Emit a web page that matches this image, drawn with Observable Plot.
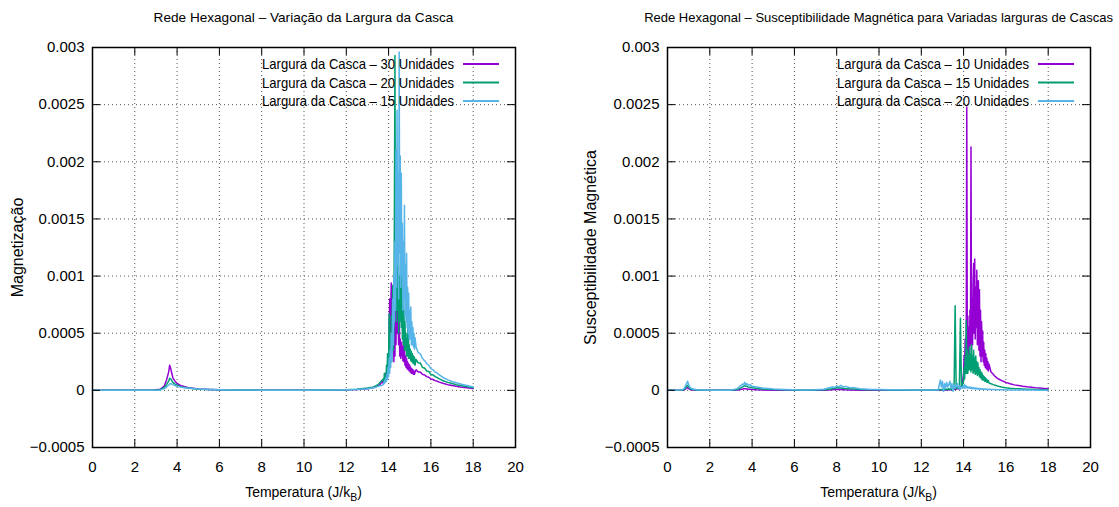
<!DOCTYPE html>
<html>
<head>
<meta charset="utf-8">
<script src="https://cdn.jsdelivr.net/npm/d3@7"></script>
<script src="https://cdn.jsdelivr.net/npm/@observablehq/plot@0.6"></script>
<style>
  body { margin: 0; background: #fff; color: #000;
         font-family: "Liberation Sans", Arial, sans-serif; }
  #wrap { display: flex; width: 1119px; height: 507px; overflow: hidden; }
  .panel { position: relative; }
  .title, .xlabel { display: flex; justify-content: center; white-space: nowrap; font-size: 14px; }
  .title { height: 34px; line-height: 36px; }
  .xlabel { height: 30px; line-height: 30px; }
  .xlabel sub { font-size: 10.5px; line-height: 0; vertical-align: -4px; }
</style>
</head>
<body>
<div id="wrap"></div>
<script>
// ---------- texts ----------
const leftTitle = "Rede Hexagonal – Variação da Largura da Casca";
const rightTitle = "Rede Hexagonal – Susceptibilidade Magnética para Variadas larguras de Cascas";
const leftYLabel = "Magnetização";
const rightYLabel = "Susceptibilidade Magnética";
const xLabelMain = "Temperatura (J/k";
const xLabelSub = "B";
const leftNames = ["Largura da Casca – 30 Unidades", "Largura da Casca – 20 Unidades", "Largura da Casca – 15 Unidades"];
const rightNames = ["Largura da Casca – 10 Unidades", "Largura da Casca – 15 Unidades", "Largura da Casca – 20 Unidades"];
const colors = ["#9400d3", "#009e73", "#56b4e9"];

// ---------- ticks ----------
const xTicks = [0, 2, 4, 6, 8, 10, 12, 14, 16, 18, 20];
const yTicks = [-0.0005, 0, 0.0005, 0.001, 0.0015, 0.002, 0.0025, 0.003];

// values below are in units of 1e-4
const UNIT = 1e-4;

// ---------- left panel ----------
const leftT = [
  0, 1, 2, 2.8, 3.2, 3.4, 3.5, 3.6, 3.65, 3.7, 3.75, 3.8, 3.9, 4.0, 4.2, 4.5, 5, 5.5, 6, 7, 8, 9, 10, 11, 12, 12.5, 13, 13.3, 13.5, 13.6, 13.7,
  13.75, 13.775, 13.8, 13.825, 13.85, 13.875, 13.9, 13.925, 13.95, 13.975,
  14, 14.025, 14.05, 14.075, 14.1, 14.125, 14.15, 14.175, 14.2, 14.225,
  14.25, 14.275, 14.3, 14.325, 14.35, 14.375, 14.4, 14.425, 14.45, 14.475,
  14.5, 14.525, 14.55, 14.575, 14.6, 14.625, 14.65, 14.675, 14.7, 14.725,
  14.75, 14.775, 14.8, 14.825, 14.85, 14.875, 14.9, 14.925, 14.95, 14.975,
  15, 15.025, 15.05, 15.075, 15.1, 15.125, 15.15, 15.175, 15.2, 15.225,
  15.25,
  15.3, 15.4, 15.5, 15.6, 15.7, 15.8, 15.9, 16, 16.1, 16.2, 16.3, 16.4, 16.6, 16.8, 17, 17.2, 17.4, 17.6, 17.8, 18
];
const left30 = [
  0, 0, 0, 0.02, 0.1, 0.4, 0.9, 1.6, 2.2, 1.9, 1.5, 1.1, 0.8, 0.6, 0.4, 0.25, 0.12, 0.08, 0.05, 0.03, 0.02, 0.02, 0.02, 0.03, 0.05, 0.08, 0.15, 0.25, 0.4, 0.5, 0.8,
  0.6, 1.0, 0.7, 1.2, 0.9, 1.5, 1.1, 2.0, 1.4, 2.6,
  1.8, 4.5, 8.0, 3.0, 6.5, 9.4, 4.0, 7.5, 3.5, 6.0,
  2.5, 5.5, 3.0, 9.0, 4.0, 12.0, 5.0, 18.5, 6.0, 4.0,
  8.0, 3.0, 4.5, 2.8, 4.2, 3.0, 3.8, 2.6, 4.4, 2.5,
  3.5, 2.2, 3.0, 2.0, 2.8, 1.9, 2.5, 1.8, 2.3, 1.7,
  2.2, 1.6, 2.0, 1.5, 1.9, 1.5, 1.8, 1.4, 1.7, 1.4,
  1.6,
  1.8, 1.6, 1.6, 1.4, 1.35, 1.2, 1.15, 1.0, 0.95, 0.85, 0.8, 0.72, 0.6, 0.5, 0.43, 0.36, 0.3, 0.25, 0.2, 0.16
];
const left20 = [
  0, 0, 0, 0.02, 0.06, 0.25, 0.5, 0.8, 1.05, 1.0, 0.85, 0.7, 0.55, 0.45, 0.3, 0.2, 0.1, 0.07, 0.05, 0.03, 0.02, 0.02, 0.02, 0.03, 0.06, 0.1, 0.2, 0.3, 0.5, 0.7, 0.9,
  1.0, 0.6, 1.5, 0.8, 1.2, 0.9, 2.2, 1.0, 3.2, 1.5,
  2.6, 6.7, 2.0, 5.0, 3.0, 6.5, 2.5, 7.0, 9.2, 3.5,
  6.0, 16.0, 29.3, 8.0, 14.0, 6.0, 12.0, 7.0, 18.0, 5.0,
  10.0, 6.0, 9.0, 12.5, 5.5, 10.8, 4.5, 8.0, 4.0, 7.0,
  3.5, 6.0, 3.5, 5.0, 3.0, 4.5, 3.0, 8.5, 2.8, 4.0,
  2.8, 3.6, 2.6, 3.4, 2.5, 3.2, 2.4, 3.0, 2.3, 2.9,
  2.2,
  2.7, 2.4, 2.4, 2.0, 1.95, 1.7, 1.65, 1.4, 1.35, 1.2, 1.12, 1.0, 0.82, 0.7, 0.6, 0.5, 0.42, 0.35, 0.29, 0.23
];
const left15 = [
  0, 0, 0, 0.02, 0.04, 0.15, 0.3, 0.45, 0.55, 0.6, 0.55, 0.5, 0.42, 0.36, 0.28, 0.2, 0.12, 0.08, 0.05, 0.03, 0.02, 0.02, 0.02, 0.03, 0.05, 0.08, 0.15, 0.22, 0.35, 0.4, 0.45,
  0.5, 0.7, 0.6, 0.9, 0.7, 1.1, 0.8, 1.4, 1.0, 2.0,
  1.2, 2.8, 1.5, 3.5, 2.0, 5.0, 2.5, 4.5, 8.0, 4.0,
  10.0, 6.0, 13.0, 7.0, 21.0, 9.0, 24.5, 11.0, 19.0, 8.0,
  29.6, 12.0, 20.5, 9.0, 19.0, 10.0, 14.6, 7.0, 13.0, 8.0,
  16.2, 6.5, 11.0, 6.0, 12.0, 5.5, 9.0, 5.0, 8.5, 4.5,
  7.0, 4.5, 7.3, 4.0, 6.0, 4.0, 5.5, 3.8, 5.0, 3.6,
  4.6,
  3.8, 3.3, 3.2, 2.8, 2.6, 2.35, 2.2, 1.9, 1.8, 1.6, 1.5, 1.35, 1.1, 0.92, 0.78, 0.66, 0.56, 0.47, 0.38, 0.3
];

// ---------- right panel ----------
const rightT = [
  0, 0.4, 0.7, 0.8, 0.85, 0.9, 0.95, 1.0, 1.05, 1.1,
  1.2, 1.4, 1.7, 2.0, 2.5, 3.0, 3.3, 3.45, 3.55, 3.6,
  3.65, 3.7, 3.75, 3.8, 3.9, 4.0, 4.2, 4.5, 5.0, 5.5,
  6.0, 6.5, 7.0, 7.4, 7.6, 7.8, 7.9, 8.0, 8.1, 8.2,
  8.3, 8.4, 8.6, 8.8, 9.1, 9.5, 10, 10.5, 11, 11.5,
  12, 12.5, 12.8,
  12.85, 12.9, 12.95, 13.0, 13.05, 13.1, 13.15, 13.2, 13.25, 13.3,
  13.35, 13.4, 13.45, 13.5, 13.55, 13.6, 13.65, 13.7, 13.75, 13.8,
  13.85, 13.9, 13.95,
  14, 14.025, 14.05, 14.075, 14.1, 14.125, 14.15, 14.175, 14.2, 14.225,
  14.25, 14.275, 14.3, 14.325, 14.35, 14.375, 14.4, 14.425, 14.45, 14.475,
  14.5, 14.525, 14.55, 14.575, 14.6, 14.625, 14.65, 14.675, 14.7, 14.725,
  14.75, 14.775, 14.8, 14.825, 14.85, 14.875, 14.9, 14.925, 14.95, 14.975,
  15, 15.025, 15.05, 15.075, 15.1, 15.125, 15.15, 15.175,
  15.2,
  15.3, 15.4, 15.5, 15.6, 15.7, 15.8, 15.9, 16.0, 16.2, 16.4,
  16.6, 16.8, 17.0, 17.2, 17.4, 17.6, 17.8, 18.0
];
const right10 = [
  0, 0, 0.01, 0.05, 0.1, 0.2, 0.25, 0.15, 0.1, 0.05,
  0.03, 0.01, 0, 0, 0, 0, 0.03, 0.08, 0.12, 0.15,
  0.15, 0.14, 0.12, 0.1, 0.09, 0.07, 0.05, 0.04, 0.02, 0.01,
  0.01, 0, 0.01, 0.02, 0.04, 0.06, 0.07, 0.08, 0.08, 0.07,
  0.06, 0.05, 0.04, 0.03, 0.02, 0.02, 0.01, 0.01, 0.01, 0.01,
  0.01, 0.01, 0.02,
  0.02, 0.03, 0.02, 0.04, 0.03, 0.05, 0.03, 0.05, 0.04, 0.06,
  0.05, 0.08, 0.06, 0.1, 0.08, 0.12, 0.1, 0.15, 0.12, 0.2,
  0.25, 0.4, 0.8,
  1.5, 3.0, 2.0, 4.5, 2.5, 5.0, 24.8, 3.0, 6.5, 2.5,
  5.5, 3.0, 7.0, 4.0, 21.3, 3.5, 8.0, 4.0, 9.5, 11.1,
  5.0, 11.5, 4.5, 9.0, 5.5, 10.5, 4.0, 8.5, 9.6, 3.5,
  8.8, 3.0, 7.0, 2.5, 6.0, 3.0, 5.2, 2.5, 4.2, 2.2,
  3.5, 2.0, 3.2, 1.9, 2.8, 1.8, 2.5, 1.7,
  2.3,
  1.6, 1.4, 1.2, 1.05, 0.95, 0.85, 0.78, 0.7, 0.58, 0.48,
  0.42, 0.36, 0.31, 0.27, 0.23, 0.2, 0.17, 0.14
];
const right15 = [
  0, 0, 0.03, 0.1, 0.2, 0.35, 0.45, 0.3, 0.2, 0.12,
  0.08, 0.04, 0.02, 0.01, 0, 0.01, 0.08, 0.2, 0.3, 0.35,
  0.4, 0.38, 0.35, 0.3, 0.28, 0.22, 0.18, 0.12, 0.07, 0.05,
  0.03, 0.02, 0.03, 0.06, 0.1, 0.15, 0.18, 0.2, 0.22, 0.2,
  0.18, 0.16, 0.13, 0.11, 0.08, 0.06, 0.05, 0.04, 0.04, 0.03,
  0.03, 0.03, 0.03,
  0.05, 0.08, 0.05, 0.1, 0.06, 0.12, 0.05, 0.1, 0.08, 0.15,
  0.06, 0.12, 0.1, 0.2, 0.1, 7.4, 0.15, 0.2, 0.3, 0.15,
  6.3, 0.3, 0.5,
  0.8, 2.0, 1.0, 3.0, 1.5, 6.1, 1.5, 3.5, 1.5, 3.0,
  1.8, 3.8, 1.8, 3.2, 1.6, 4.0, 1.8, 3.0, 1.5, 3.5,
  1.6, 2.8, 1.4, 3.0, 1.5, 2.5, 1.3, 2.4, 1.4, 2.0,
  1.2, 1.8, 1.1, 1.6, 1.0, 1.5, 0.9, 1.3, 0.9, 1.2,
  0.8, 1.1, 0.8, 1.0, 0.7, 0.9, 0.7, 0.85,
  0.65,
  0.58, 0.5, 0.44, 0.38, 0.33, 0.29, 0.26, 0.23, 0.19, 0.16,
  0.14, 0.12, 0.1, 0.09, 0.08, 0.07, 0.06, 0.05
];
const right20 = [
  0, 0, 0.05, 0.2, 0.4, 0.6, 0.8, 0.5, 0.3, 0.2,
  0.12, 0.06, 0.03, 0.01, 0, 0.02, 0.15, 0.4, 0.55, 0.45,
  0.7, 0.5, 0.6, 0.45, 0.5, 0.35, 0.3, 0.2, 0.12, 0.08,
  0.05, 0.04, 0.05, 0.1, 0.2, 0.3, 0.25, 0.4, 0.3, 0.45,
  0.3, 0.35, 0.25, 0.22, 0.15, 0.1, 0.08, 0.06, 0.05, 0.04,
  0.04, 0.03, 0.03,
  0.5, 0.9, 0.3, 0.8, -0.1, 0.6, 0.2, 0.7, 0.3, 0.5,
  0.8, 0.2, 0.6, -0.1, 0.5, 0.2, 0.4, 0.6, 0.2, 0.4,
  0.1, 0.3, 0.2,
  0.4, 0.2, 0.5, 0.2, 0.4, 0.25, 0.35, 0.2, 0.3, 0.2,
  0.3, 0.18, 0.28, 0.18, 0.26, 0.16, 0.25, 0.15, 0.24, 0.15,
  0.22, 0.14, 0.2, 0.13, 0.2, 0.12, 0.18, 0.12, 0.17, 0.11,
  0.16, 0.1, 0.15, 0.1, 0.14, 0.1, 0.13, 0.09, 0.12, 0.09,
  0.12, 0.08, 0.11, 0.08, 0.1, 0.08, 0.1, 0.07,
  0.09,
  0.08, 0.07, 0.07, 0.06, 0.06, 0.05, 0.05, 0.05, 0.04, 0.04,
  0.04, 0.03, 0.03, 0.03, 0.03, 0.02, 0.02, 0.02
];

// ---------- drawing ----------
const FONT = '"Liberation Sans", Arial, sans-serif';
const fmtY = d => d === 0 ? "0" : (d < 0 ? "\u2212" : "") + String(Math.abs(d));
const SVG_H = 443, M_TOP = 13, M_BOTTOM = 30, TICK = 8;

function makePanel(cfg) {
  const { width, marginLeft, marginRight, title, titleSize, yLabel, yLabelDx, names, T, series } = cfg;
  const plotW = width - marginLeft - marginRight;
  const plotH = SVG_H - M_TOP - M_BOTTOM;

  const panel = document.createElement("div");
  panel.className = "panel";
  panel.style.width = width + "px";

  const t = document.createElement("div");
  t.className = "title";
  t.style.marginLeft = marginLeft + "px";
  t.style.width = plotW + "px";
  t.style.fontSize = titleSize + "px";
  const ts = document.createElement("span");
  ts.textContent = title;
  t.appendChild(ts);
  panel.appendChild(t);

  const lines = series.map((vals, k) =>
    Plot.line(vals.map((v, i) => ({ T: T[i], v: v * UNIT })), {
      x: "T", y: "v", stroke: colors[k], strokeWidth: 1.5
    })
  );

  const plot = Plot.plot({
    width, height: SVG_H,
    marginTop: M_TOP, marginBottom: M_BOTTOM, marginLeft, marginRight,
    style: { fontSize: "15px", fontFamily: FONT, color: "#000", background: "transparent", overflow: "visible" },
    x: { domain: [0, 20], ticks: xTicks, tickSize: 0, tickPadding: 14, label: null, tickFormat: d => String(d) },
    y: { domain: [-0.0005, 0.003], ticks: yTicks, tickSize: 0, tickPadding: 8, label: null, tickFormat: fmtY },
    marks: [
      Plot.ruleX(xTicks.slice(1, -1), { x: d => d, stroke: "#555", strokeWidth: 1, strokeDasharray: "1,3" }),
      Plot.ruleY(yTicks.slice(1, -1), { y: d => d, stroke: "#555", strokeWidth: 1, strokeDasharray: "1,3" }),
      ...lines,
      Plot.tickX(xTicks, { x: d => d, insetTop: plotH - TICK, stroke: "#000" }),
      Plot.tickX(xTicks, { x: d => d, insetBottom: plotH - TICK, stroke: "#000" }),
      Plot.tickY(yTicks, { y: d => d, insetRight: plotW - TICK, stroke: "#000" }),
      Plot.tickY(yTicks, { y: d => d, insetLeft: plotW - TICK, stroke: "#000" }),
      Plot.frame({ stroke: "#000", strokeWidth: 1.5 }),
      Plot.text([yLabel], { text: d => d, frameAnchor: "left", textAnchor: "middle", rotate: -90, dx: yLabelDx, fill: "#000", fontSize: 16 })
    ]
  });

  // key (legend) inside the top-right corner of the frame
  const xr = plot.scale("x").range, yr = plot.scale("y").range;
  const right = Math.max(...xr), top = Math.min(...yr);
  const g = d3.select(plot).append("g").attr("class", "key");
  names.forEach((n, k) => {
    const y = top + 17 + k * 18.5;
    g.append("text").attr("x", right - 61).attr("y", y).attr("dy", "0.35em")
      .attr("text-anchor", "end").attr("fill", "#000")
      .attr("textLength", 192).attr("lengthAdjust", "spacingAndGlyphs").text(n);
    g.append("line").attr("x1", right - 52).attr("x2", right - 16).attr("y1", y).attr("y2", y)
      .attr("stroke", colors[k]).attr("stroke-width", 2);
  });
  panel.appendChild(plot);

  const xl = document.createElement("div");
  xl.className = "xlabel";
  xl.style.marginLeft = marginLeft + "px";
  xl.style.width = plotW + "px";
  const span = document.createElement("span");
  span.append(xLabelMain);
  const sub = document.createElement("sub");
  sub.textContent = xLabelSub;
  span.append(sub, ")");
  xl.appendChild(span);
  panel.appendChild(xl);
  return panel;
}

const wrap = document.getElementById("wrap");
wrap.appendChild(makePanel({
  width: 560, marginLeft: 92, marginRight: 45,
  title: leftTitle, titleSize: 13.6, yLabel: leftYLabel, yLabelDx: -75, names: leftNames,
  T: leftT, series: [left30, left20, left15]
}));
wrap.appendChild(makePanel({
  width: 559, marginLeft: 107, marginRight: 29,
  title: rightTitle, titleSize: 13, yLabel: rightYLabel, yLabelDx: -77, names: rightNames,
  T: rightT, series: [right10, right15, right20]
}));
</script>
</body>
</html>
